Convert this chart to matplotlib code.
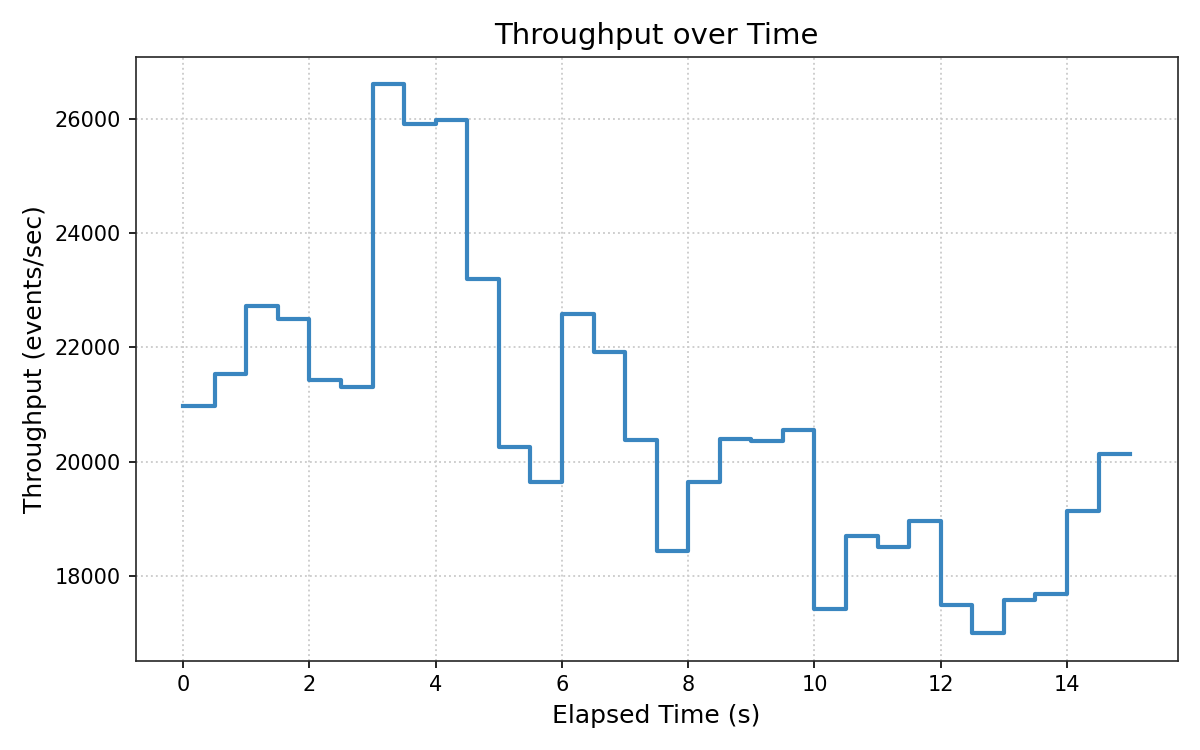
import numpy as np
import matplotlib
matplotlib.use('Agg')
import matplotlib.pyplot as plt

# Datos (intervalos de 0.5 s)
elapsed = np.arange(0, 15.5, 0.5)
throughput = [20970, 21530, 22720, 22500, 21430, 21310, 26600, 25910, 25980, 23190,
              20250, 19650, 22580, 21910, 20375, 18430, 19635, 20395, 20365, 20545,
              17420, 18705, 18500, 18957, 17497, 16997, 17578, 17683, 19132, 20128,
              20128]

fig, ax = plt.subplots(figsize=(8, 5), dpi=150)
ax.step(elapsed, throughput, where='post', color='#3a86c0', linewidth=2)
ax.set_title('Throughput over Time', fontsize=14)
ax.set_xlabel('Elapsed Time (s)', fontsize=12)
ax.set_ylabel('Throughput (events/sec)', fontsize=12)
ax.grid(True, linestyle=':', color='#cccccc', linewidth=0.9)
for s in ax.spines.values():
    s.set_color('#262626')
ax.tick_params(labelsize=10)
plt.tight_layout()
plt.savefig('out.png', dpi=150)
